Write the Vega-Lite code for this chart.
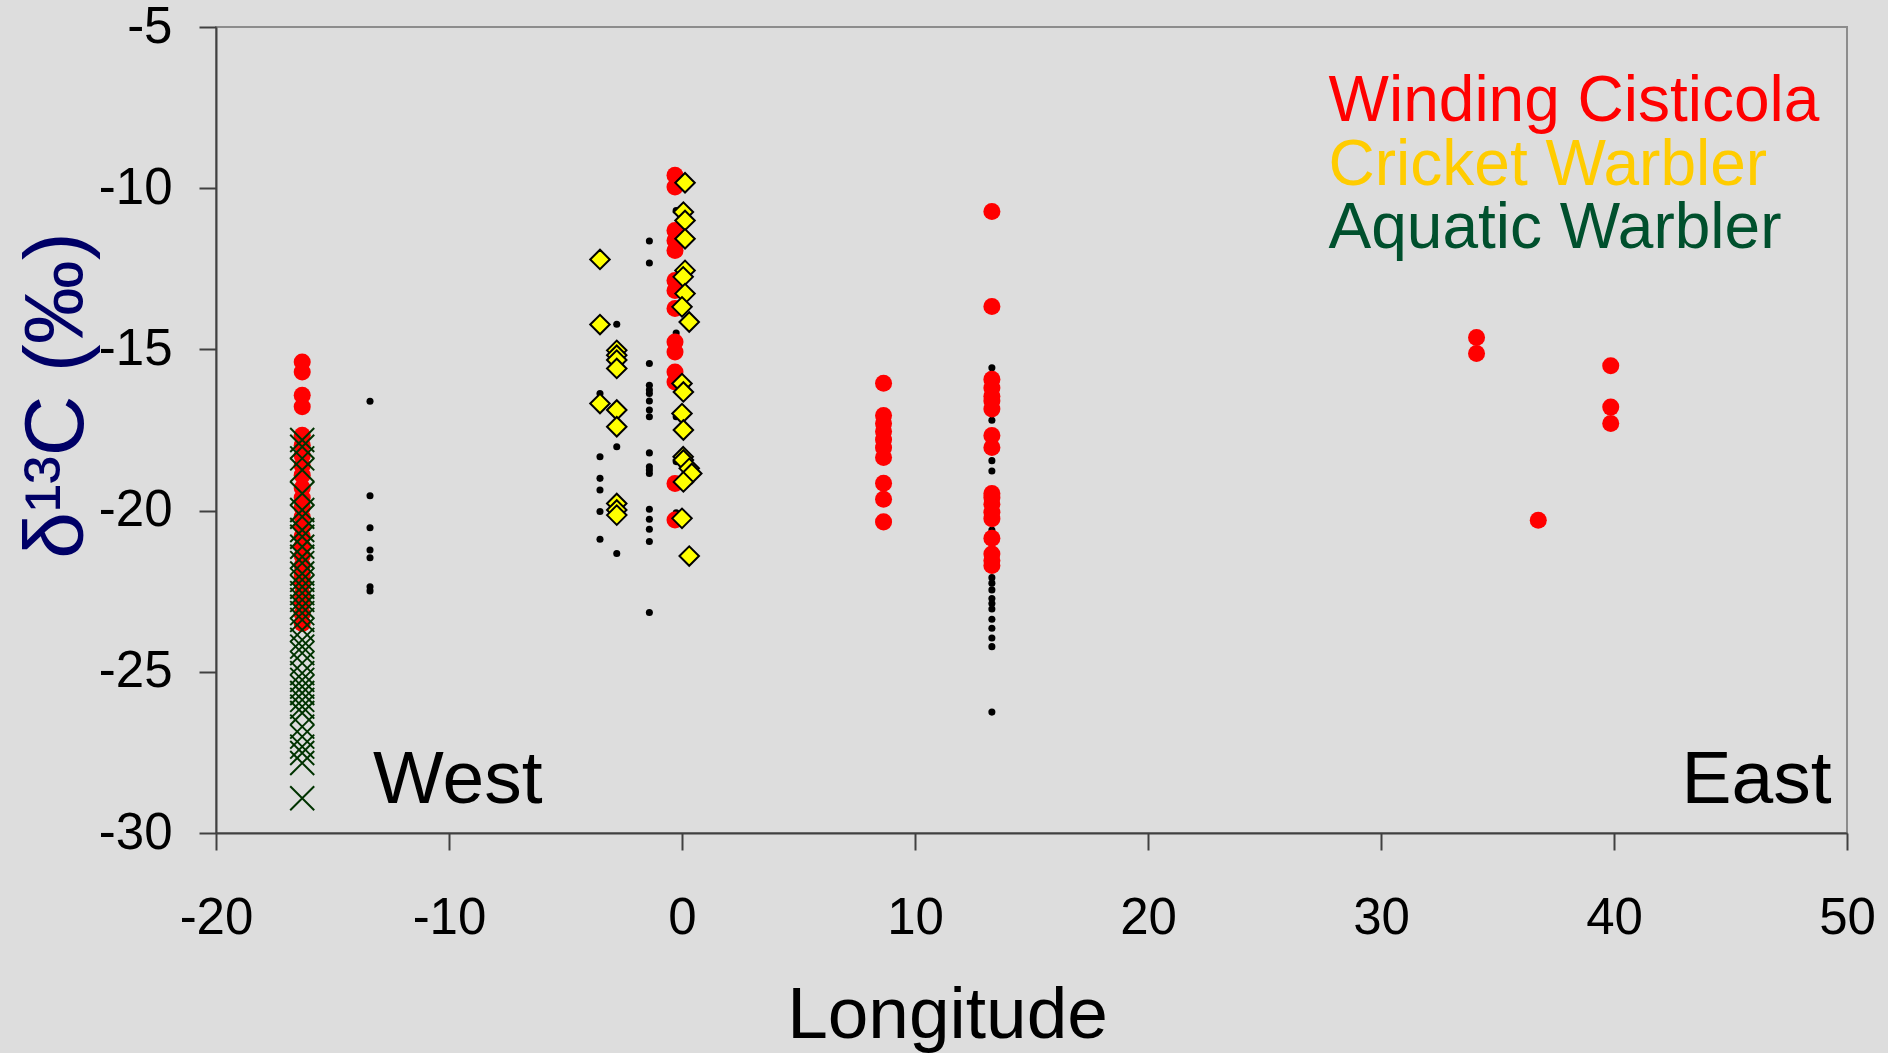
{
  "$schema": "https://vega.github.io/schema/vega-lite/v6.json",
  "autosize": "none",
  "width": 1631,
  "height": 806,
  "padding": {"left": 216, "top": 27, "right": 41, "bottom": 220},
  "background": "#dddddd",
  "config": {
    "font": "Liberation Sans",
    "view": {"stroke": "#8c8c8c", "strokeWidth": 2},
    "axis": {
      "grid": false,
      "domainColor": "#404040",
      "domainWidth": 2,
      "tickColor": "#404040",
      "tickWidth": 2,
      "tickSize": 17,
      "labelFontSize": 51,
      "labelColor": "#000000",
      "labelFont": "Liberation Sans",
      "titleFont": "Liberation Sans",
      "titleFontWeight": "normal",
      "labelFlush": false,
      "labelOverlap": false
    }
  },
  "datasets": {
    "birds": [
      {"sp": "Winding Cisticola", "lon": -16.3, "d13C": -15.39},
      {"sp": "Winding Cisticola", "lon": -16.3, "d13C": -15.7},
      {"sp": "Winding Cisticola", "lon": -16.3, "d13C": -16.42},
      {"sp": "Winding Cisticola", "lon": -16.3, "d13C": -16.78},
      {"sp": "Winding Cisticola", "lon": -16.3, "d13C": -17.66},
      {"sp": "Winding Cisticola", "lon": -16.3, "d13C": -17.97},
      {"sp": "Winding Cisticola", "lon": -16.3, "d13C": -18.3},
      {"sp": "Winding Cisticola", "lon": -16.3, "d13C": -18.6},
      {"sp": "Winding Cisticola", "lon": -16.3, "d13C": -18.9},
      {"sp": "Winding Cisticola", "lon": -16.3, "d13C": -19.3},
      {"sp": "Winding Cisticola", "lon": -16.3, "d13C": -19.6},
      {"sp": "Winding Cisticola", "lon": -16.3, "d13C": -19.9},
      {"sp": "Winding Cisticola", "lon": -16.3, "d13C": -20.2},
      {"sp": "Winding Cisticola", "lon": -16.3, "d13C": -20.5},
      {"sp": "Winding Cisticola", "lon": -16.3, "d13C": -20.8},
      {"sp": "Winding Cisticola", "lon": -16.3, "d13C": -21.1},
      {"sp": "Winding Cisticola", "lon": -16.3, "d13C": -21.4},
      {"sp": "Winding Cisticola", "lon": -16.3, "d13C": -21.7},
      {"sp": "Winding Cisticola", "lon": -16.3, "d13C": -22.0},
      {"sp": "Winding Cisticola", "lon": -16.3, "d13C": -22.3},
      {"sp": "Winding Cisticola", "lon": -16.3, "d13C": -22.6},
      {"sp": "Winding Cisticola", "lon": -16.3, "d13C": -22.9},
      {"sp": "Winding Cisticola", "lon": -16.3, "d13C": -23.2},
      {"sp": "Winding Cisticola", "lon": -16.3, "d13C": -23.5},
      {"sp": "Winding Cisticola", "lon": -0.3, "d13C": -9.6},
      {"sp": "Winding Cisticola", "lon": -0.3, "d13C": -9.96},
      {"sp": "Winding Cisticola", "lon": -0.3, "d13C": -11.31},
      {"sp": "Winding Cisticola", "lon": -0.3, "d13C": -11.62},
      {"sp": "Winding Cisticola", "lon": -0.3, "d13C": -11.93},
      {"sp": "Winding Cisticola", "lon": -0.3, "d13C": -12.86},
      {"sp": "Winding Cisticola", "lon": -0.3, "d13C": -13.17},
      {"sp": "Winding Cisticola", "lon": -0.3, "d13C": -13.73},
      {"sp": "Winding Cisticola", "lon": -0.3, "d13C": -14.77},
      {"sp": "Winding Cisticola", "lon": -0.3, "d13C": -15.08},
      {"sp": "Winding Cisticola", "lon": -0.3, "d13C": -15.7},
      {"sp": "Winding Cisticola", "lon": -0.3, "d13C": -16.01},
      {"sp": "Winding Cisticola", "lon": -0.3, "d13C": -19.16},
      {"sp": "Winding Cisticola", "lon": -0.3, "d13C": -20.29},
      {"sp": "Winding Cisticola", "lon": 8.65, "d13C": -16.05},
      {"sp": "Winding Cisticola", "lon": 8.65, "d13C": -17.05},
      {"sp": "Winding Cisticola", "lon": 8.65, "d13C": -17.3},
      {"sp": "Winding Cisticola", "lon": 8.65, "d13C": -17.55},
      {"sp": "Winding Cisticola", "lon": 8.65, "d13C": -17.8},
      {"sp": "Winding Cisticola", "lon": 8.65, "d13C": -18.05},
      {"sp": "Winding Cisticola", "lon": 8.65, "d13C": -18.35},
      {"sp": "Winding Cisticola", "lon": 8.65, "d13C": -19.15},
      {"sp": "Winding Cisticola", "lon": 8.65, "d13C": -19.65},
      {"sp": "Winding Cisticola", "lon": 8.65, "d13C": -20.35},
      {"sp": "Winding Cisticola", "lon": 13.3, "d13C": -10.72},
      {"sp": "Winding Cisticola", "lon": 13.3, "d13C": -13.67},
      {"sp": "Winding Cisticola", "lon": 13.3, "d13C": -15.93},
      {"sp": "Winding Cisticola", "lon": 13.3, "d13C": -16.2},
      {"sp": "Winding Cisticola", "lon": 13.3, "d13C": -16.45},
      {"sp": "Winding Cisticola", "lon": 13.3, "d13C": -16.6},
      {"sp": "Winding Cisticola", "lon": 13.3, "d13C": -16.85},
      {"sp": "Winding Cisticola", "lon": 13.3, "d13C": -17.67},
      {"sp": "Winding Cisticola", "lon": 13.3, "d13C": -18.04},
      {"sp": "Winding Cisticola", "lon": 13.3, "d13C": -19.47},
      {"sp": "Winding Cisticola", "lon": 13.3, "d13C": -19.6},
      {"sp": "Winding Cisticola", "lon": 13.3, "d13C": -19.8},
      {"sp": "Winding Cisticola", "lon": 13.3, "d13C": -20.05},
      {"sp": "Winding Cisticola", "lon": 13.3, "d13C": -20.25},
      {"sp": "Winding Cisticola", "lon": 13.3, "d13C": -20.86},
      {"sp": "Winding Cisticola", "lon": 13.3, "d13C": -21.35},
      {"sp": "Winding Cisticola", "lon": 13.3, "d13C": -21.55},
      {"sp": "Winding Cisticola", "lon": 13.3, "d13C": -21.7},
      {"sp": "Winding Cisticola", "lon": 34.1, "d13C": -14.63},
      {"sp": "Winding Cisticola", "lon": 34.1, "d13C": -15.13},
      {"sp": "Winding Cisticola", "lon": 39.86, "d13C": -15.51},
      {"sp": "Winding Cisticola", "lon": 39.86, "d13C": -16.79},
      {"sp": "Winding Cisticola", "lon": 39.86, "d13C": -17.3},
      {"sp": "Winding Cisticola", "lon": 36.75, "d13C": -20.3},
      {"sp": "Cricket Warbler", "lon": -3.52, "d13C": -12.21},
      {"sp": "Cricket Warbler", "lon": -3.52, "d13C": -14.23},
      {"sp": "Cricket Warbler", "lon": -3.52, "d13C": -16.68},
      {"sp": "Cricket Warbler", "lon": -2.8, "d13C": -15.03},
      {"sp": "Cricket Warbler", "lon": -2.8, "d13C": -15.18},
      {"sp": "Cricket Warbler", "lon": -2.8, "d13C": -15.33},
      {"sp": "Cricket Warbler", "lon": -2.8, "d13C": -15.59},
      {"sp": "Cricket Warbler", "lon": -2.8, "d13C": -16.88},
      {"sp": "Cricket Warbler", "lon": -2.8, "d13C": -17.4},
      {"sp": "Cricket Warbler", "lon": -2.8, "d13C": -19.78},
      {"sp": "Cricket Warbler", "lon": -2.8, "d13C": -19.98},
      {"sp": "Cricket Warbler", "lon": -2.8, "d13C": -20.14},
      {"sp": "Cricket Warbler", "lon": 0.13, "d13C": -9.83},
      {"sp": "Cricket Warbler", "lon": 0.06, "d13C": -10.74},
      {"sp": "Cricket Warbler", "lon": 0.13, "d13C": -11.0},
      {"sp": "Cricket Warbler", "lon": 0.13, "d13C": -11.57},
      {"sp": "Cricket Warbler", "lon": 0.13, "d13C": -12.55},
      {"sp": "Cricket Warbler", "lon": 0.05, "d13C": -12.75},
      {"sp": "Cricket Warbler", "lon": 0.13, "d13C": -13.27},
      {"sp": "Cricket Warbler", "lon": 0.0, "d13C": -13.68},
      {"sp": "Cricket Warbler", "lon": 0.31, "d13C": -14.15},
      {"sp": "Cricket Warbler", "lon": 0.0, "d13C": -16.06},
      {"sp": "Cricket Warbler", "lon": 0.06, "d13C": -16.32},
      {"sp": "Cricket Warbler", "lon": 0.0, "d13C": -16.99},
      {"sp": "Cricket Warbler", "lon": 0.06, "d13C": -17.5},
      {"sp": "Cricket Warbler", "lon": 0.05, "d13C": -18.33},
      {"sp": "Cricket Warbler", "lon": 0.06, "d13C": -18.43},
      {"sp": "Cricket Warbler", "lon": 0.31, "d13C": -18.69},
      {"sp": "Cricket Warbler", "lon": 0.42, "d13C": -18.85},
      {"sp": "Cricket Warbler", "lon": 0.06, "d13C": -19.11},
      {"sp": "Cricket Warbler", "lon": 0.0, "d13C": -20.24},
      {"sp": "Cricket Warbler", "lon": 0.31, "d13C": -21.41},
      {"sp": "Other", "lon": -13.39, "d13C": -16.61},
      {"sp": "Other", "lon": -13.39, "d13C": -19.54},
      {"sp": "Other", "lon": -13.39, "d13C": -20.53},
      {"sp": "Other", "lon": -13.39, "d13C": -21.22},
      {"sp": "Other", "lon": -13.39, "d13C": -21.46},
      {"sp": "Other", "lon": -13.39, "d13C": -22.36},
      {"sp": "Other", "lon": -13.39, "d13C": -22.49},
      {"sp": "Other", "lon": -3.52, "d13C": -16.37},
      {"sp": "Other", "lon": -3.52, "d13C": -18.33},
      {"sp": "Other", "lon": -3.52, "d13C": -19.0},
      {"sp": "Other", "lon": -3.52, "d13C": -19.36},
      {"sp": "Other", "lon": -3.52, "d13C": -20.03},
      {"sp": "Other", "lon": -3.52, "d13C": -20.89},
      {"sp": "Other", "lon": -2.8, "d13C": -14.22},
      {"sp": "Other", "lon": -2.8, "d13C": -18.02},
      {"sp": "Other", "lon": -2.8, "d13C": -21.33},
      {"sp": "Other", "lon": -1.4, "d13C": -11.64},
      {"sp": "Other", "lon": -1.4, "d13C": -12.32},
      {"sp": "Other", "lon": -1.4, "d13C": -15.44},
      {"sp": "Other", "lon": -1.4, "d13C": -16.11},
      {"sp": "Other", "lon": -1.4, "d13C": -16.26},
      {"sp": "Other", "lon": -1.4, "d13C": -16.37},
      {"sp": "Other", "lon": -1.4, "d13C": -16.6},
      {"sp": "Other", "lon": -1.4, "d13C": -16.88},
      {"sp": "Other", "lon": -1.4, "d13C": -17.09},
      {"sp": "Other", "lon": -1.4, "d13C": -18.21},
      {"sp": "Other", "lon": -1.4, "d13C": -18.64},
      {"sp": "Other", "lon": -1.4, "d13C": -18.74},
      {"sp": "Other", "lon": -1.4, "d13C": -18.85},
      {"sp": "Other", "lon": -1.4, "d13C": -19.96},
      {"sp": "Other", "lon": -1.4, "d13C": -20.27},
      {"sp": "Other", "lon": -1.4, "d13C": -20.58},
      {"sp": "Other", "lon": -1.4, "d13C": -20.96},
      {"sp": "Other", "lon": -1.4, "d13C": -23.16},
      {"sp": "Other", "lon": -0.25, "d13C": -10.69},
      {"sp": "Other", "lon": -0.25, "d13C": -14.49},
      {"sp": "Other", "lon": -0.25, "d13C": -17.09},
      {"sp": "Other", "lon": -0.25, "d13C": -18.48},
      {"sp": "Other", "lon": -0.25, "d13C": -20.07},
      {"sp": "Other", "lon": 13.3, "d13C": -15.57},
      {"sp": "Other", "lon": 13.3, "d13C": -16.0},
      {"sp": "Other", "lon": 13.3, "d13C": -17.2},
      {"sp": "Other", "lon": 13.3, "d13C": -18.45},
      {"sp": "Other", "lon": 13.3, "d13C": -18.77},
      {"sp": "Other", "lon": 13.3, "d13C": -19.6},
      {"sp": "Other", "lon": 13.3, "d13C": -20.6},
      {"sp": "Other", "lon": 13.3, "d13C": -21.5},
      {"sp": "Other", "lon": 13.3, "d13C": -22.08},
      {"sp": "Other", "lon": 13.3, "d13C": -22.25},
      {"sp": "Other", "lon": 13.3, "d13C": -22.46},
      {"sp": "Other", "lon": 13.3, "d13C": -22.73},
      {"sp": "Other", "lon": 13.3, "d13C": -22.88},
      {"sp": "Other", "lon": 13.3, "d13C": -23.05},
      {"sp": "Other", "lon": 13.3, "d13C": -23.37},
      {"sp": "Other", "lon": 13.3, "d13C": -23.65},
      {"sp": "Other", "lon": 13.3, "d13C": -23.95},
      {"sp": "Other", "lon": 13.3, "d13C": -24.22},
      {"sp": "Other", "lon": 13.3, "d13C": -26.25},
      {"sp": "Aquatic Warbler", "lon": -16.3, "d13C": -17.81},
      {"sp": "Aquatic Warbler", "lon": -16.3, "d13C": -18.02},
      {"sp": "Aquatic Warbler", "lon": -16.3, "d13C": -18.38},
      {"sp": "Aquatic Warbler", "lon": -16.3, "d13C": -18.74},
      {"sp": "Aquatic Warbler", "lon": -16.3, "d13C": -19.47},
      {"sp": "Aquatic Warbler", "lon": -16.3, "d13C": -19.98},
      {"sp": "Aquatic Warbler", "lon": -16.3, "d13C": -20.19},
      {"sp": "Aquatic Warbler", "lon": -16.3, "d13C": -20.6},
      {"sp": "Aquatic Warbler", "lon": -16.3, "d13C": -20.81},
      {"sp": "Aquatic Warbler", "lon": -16.3, "d13C": -21.12},
      {"sp": "Aquatic Warbler", "lon": -16.3, "d13C": -21.43},
      {"sp": "Aquatic Warbler", "lon": -16.3, "d13C": -21.63},
      {"sp": "Aquatic Warbler", "lon": -16.3, "d13C": -21.95},
      {"sp": "Aquatic Warbler", "lon": -16.3, "d13C": -22.15},
      {"sp": "Aquatic Warbler", "lon": -16.3, "d13C": -22.36},
      {"sp": "Aquatic Warbler", "lon": -16.3, "d13C": -22.56},
      {"sp": "Aquatic Warbler", "lon": -16.3, "d13C": -22.77},
      {"sp": "Aquatic Warbler", "lon": -16.3, "d13C": -22.98},
      {"sp": "Aquatic Warbler", "lon": -16.3, "d13C": -23.18},
      {"sp": "Aquatic Warbler", "lon": -16.3, "d13C": -23.39},
      {"sp": "Aquatic Warbler", "lon": -16.3, "d13C": -23.7},
      {"sp": "Aquatic Warbler", "lon": -16.3, "d13C": -24.01},
      {"sp": "Aquatic Warbler", "lon": -16.3, "d13C": -24.22},
      {"sp": "Aquatic Warbler", "lon": -16.3, "d13C": -24.42},
      {"sp": "Aquatic Warbler", "lon": -16.3, "d13C": -24.73},
      {"sp": "Aquatic Warbler", "lon": -16.3, "d13C": -25.04},
      {"sp": "Aquatic Warbler", "lon": -16.3, "d13C": -25.25},
      {"sp": "Aquatic Warbler", "lon": -16.3, "d13C": -25.46},
      {"sp": "Aquatic Warbler", "lon": -16.3, "d13C": -25.66},
      {"sp": "Aquatic Warbler", "lon": -16.3, "d13C": -25.87},
      {"sp": "Aquatic Warbler", "lon": -16.3, "d13C": -26.08},
      {"sp": "Aquatic Warbler", "lon": -16.3, "d13C": -26.28},
      {"sp": "Aquatic Warbler", "lon": -16.3, "d13C": -26.7},
      {"sp": "Aquatic Warbler", "lon": -16.3, "d13C": -27.01},
      {"sp": "Aquatic Warbler", "lon": -16.3, "d13C": -27.32},
      {"sp": "Aquatic Warbler", "lon": -16.3, "d13C": -27.52},
      {"sp": "Aquatic Warbler", "lon": -16.3, "d13C": -27.83},
      {"sp": "Aquatic Warbler", "lon": -16.3, "d13C": -28.92}
    ],
    "labels": [
      {"key": "West", "label": "West"},
      {"key": "East", "label": "East"},
      {"key": "WC", "label": "Winding Cisticola"},
      {"key": "CW", "label": "Cricket Warbler"},
      {"key": "AW", "label": "Aquatic Warbler"}
    ]
  },
  "layer": [
    {
      "data": {"name": "birds"},
      "transform": [{"filter": "datum.sp === 'Other'"}],
      "mark": {"type": "point", "shape": "circle", "filled": true, "color": "#000000", "size": 50, "opacity": 1},
      "encoding": {
        "x": {
          "field": "lon",
          "type": "quantitative",
          "scale": {"domain": [-20, 50], "nice": false, "zero": false},
          "axis": {
            "values": [-20, -10, 0, 10, 20, 30, 40, 50],
            "labelExpr": "'' + datum.value",
            "labelPadding": 43,
            "title": "Longitude",
            "titleFontSize": 73,
            "titleColor": "#000000",
            "titleX": 731,
            "titleY": 204,
            "titleBaseline": "alphabetic",
            "titleAlign": "center"
          }
        },
        "y": {
          "field": "d13C",
          "type": "quantitative",
          "scale": {"domain": [-30, -5], "nice": false, "zero": false},
          "axis": {
            "values": [-30, -25, -20, -15, -10, -5],
            "labelExpr": "'' + datum.value",
            "labelPadding": 27,
            "title": "δ¹³C (‰)",
            "titleFontSize": 84,
            "titleColor": "#000066",
            "titleX": -134,
            "titleY": 368,
            "titleAngle": -90,
            "titleBaseline": "alphabetic",
            "titleAlign": "center"
          }
        }
      }
    },
    {
      "data": {"name": "birds"},
      "transform": [{"filter": "datum.sp === 'Winding Cisticola'"}],
      "mark": {"type": "point", "shape": "circle", "filled": true, "color": "#ff0000", "size": 290, "opacity": 1},
      "encoding": {
        "x": {"field": "lon", "type": "quantitative"},
        "y": {"field": "d13C", "type": "quantitative"}
      }
    },
    {
      "data": {"name": "birds"},
      "transform": [{"filter": "datum.sp === 'Cricket Warbler'"}],
      "mark": {"type": "point", "shape": "diamond", "filled": true, "fill": "#ffff00", "stroke": "#000000", "strokeWidth": 2, "size": 380, "opacity": 1},
      "encoding": {
        "x": {"field": "lon", "type": "quantitative"},
        "y": {"field": "d13C", "type": "quantitative"}
      }
    },
    {
      "data": {"name": "birds"},
      "transform": [{"filter": "datum.sp === 'Aquatic Warbler'"}],
      "mark": {"type": "point", "shape": "M-1,-1L1,1M-1,1L1,-1", "filled": false, "stroke": "#003300", "strokeWidth": 2, "size": 576, "opacity": 1},
      "encoding": {
        "x": {"field": "lon", "type": "quantitative"},
        "y": {"field": "d13C", "type": "quantitative"}
      }
    },
    {
      "data": {"name": "labels"},
      "transform": [{"filter": "datum.key === 'West'"}],
      "mark": {"type": "text", "align": "left", "baseline": "alphabetic", "fontSize": 75, "color": "#000000"},
      "encoding": {
        "x": {"datum": -13.26, "type": "quantitative"},
        "y": {"datum": -29.07, "type": "quantitative"},
        "text": {"field": "label"}
      }
    },
    {
      "data": {"name": "labels"},
      "transform": [{"filter": "datum.key === 'East'"}],
      "mark": {"type": "text", "align": "right", "baseline": "alphabetic", "fontSize": 75, "color": "#000000"},
      "encoding": {
        "x": {"datum": 49.34, "type": "quantitative"},
        "y": {"datum": -29.07, "type": "quantitative"},
        "text": {"field": "label"}
      }
    },
    {
      "data": {"name": "labels"},
      "transform": [{"filter": "datum.key === 'WC'"}],
      "mark": {"type": "text", "align": "left", "baseline": "alphabetic", "fontSize": 64, "color": "#ff0000"},
      "encoding": {
        "x": {"datum": 27.75, "type": "quantitative"},
        "y": {"datum": -7.91, "type": "quantitative"},
        "text": {"field": "label"}
      }
    },
    {
      "data": {"name": "labels"},
      "transform": [{"filter": "datum.key === 'CW'"}],
      "mark": {"type": "text", "align": "left", "baseline": "alphabetic", "fontSize": 64, "color": "#ffcc00"},
      "encoding": {
        "x": {"datum": 27.75, "type": "quantitative"},
        "y": {"datum": -9.89, "type": "quantitative"},
        "text": {"field": "label"}
      }
    },
    {
      "data": {"name": "labels"},
      "transform": [{"filter": "datum.key === 'AW'"}],
      "mark": {"type": "text", "align": "left", "baseline": "alphabetic", "fontSize": 64, "color": "#00502d"},
      "encoding": {
        "x": {"datum": 27.75, "type": "quantitative"},
        "y": {"datum": -11.86, "type": "quantitative"},
        "text": {"field": "label"}
      }
    }
  ]
}
